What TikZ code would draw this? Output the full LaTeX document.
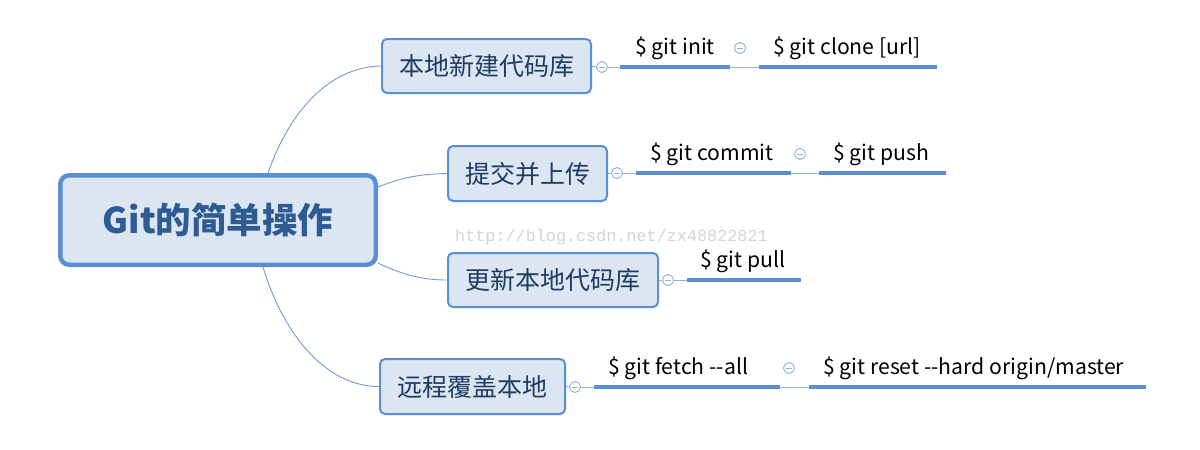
\documentclass[tikz,border=0pt]{standalone}
\usepackage{fontspec}
\newfontfamily\cjk{Noto Sans CJK SC}
\newfontfamily\wmfont{Liberation Mono}
\usetikzlibrary{calc}
\definecolor{bdr}{HTML}{5A8ED5}
\definecolor{fillc}{HTML}{DCE6F2}
\definecolor{rootc}{HTML}{2E5B92}
\definecolor{navy}{HTML}{1E3B63}
\definecolor{linkc}{HTML}{6E9BD8}
\definecolor{togc}{HTML}{8FB0E0}
\definecolor{wmc}{HTML}{D4D4D4}
\tikzset{
  root/.style={draw=bdr, fill=fillc, line width=4.5pt, rounded corners=9pt, inner sep=0pt,
    minimum width=315.5pt, minimum height=89.5pt, text=rootc, font=\cjk\bfseries\fontsize{35.5}{35.5}\selectfont},
  branch/.style={draw=bdr, fill=fillc, line width=2pt, rounded corners=5pt, inner sep=0pt,
    text=navy, font=\cjk\fontsize{25}{25}\selectfont},
  link/.style={draw=linkc, line width=0.9pt},
  under/.style={draw=bdr, line width=3.2pt},
  thin/.style={draw=togc, line width=1pt},
  toggle/.style={circle, draw=togc, fill=white, line width=0.9pt, minimum size=11pt, inner sep=0pt,
    path picture={\draw[togc, line width=0.9pt] ([xshift=-2.6pt]path picture bounding box.center) -- ([xshift=2.6pt]path picture bounding box.center);}},
  leaf/.style={anchor=base west, inner sep=0pt, text=black, font=\cjk\fontsize{21.2}{21.2}\selectfont},
}
\begin{document}
\begin{tikzpicture}[x=1pt,y=-1pt]
\useasboundingbox (0,0) rectangle (1200,450);
% watermark
\node[anchor=base west, inner sep=0pt, text=wmc, font=\wmfont\fontsize{16.8}{16.8}\selectfont] (wm) at (455,241) {http://blog.csdn.net/zx48822821};
% root
\node[root] (root) at (218,220) {Git的简单操作};
% branches
\node[branch, minimum width=209pt, minimum height=54pt] (b1) at (486.5,66) {本地新建代码库};
\node[branch, minimum width=159pt, minimum height=55pt] (b2) at (527.5,173.5) {提交并上传};
\node[branch, minimum width=210pt, minimum height=54pt] (b3) at (553,280) {更新本地代码库};
\node[branch, minimum width=185pt, minimum height=55pt] (b4) at (472.5,386.5) {远程覆盖本地};
% connectors root -> branches
\coordinate (s1) at ($(root.north)+(50,0)$);
\coordinate (s2) at ($(root.north east)+(0,14)$);
\coordinate (s3) at ($(root.south east)+(0,-4)$);
\coordinate (s4) at ($(root.south)+(45,0)$);
\draw[link] (s1) .. controls (290,110) and (330,67) .. (b1.west);
\draw[link] (s2) .. controls (405,176) and (425,174) .. (b2.west);
\draw[link] (s3) .. controls (405,276) and (425,280) .. (b3.west);
\draw[link] (s4) .. controls (285,340) and (330,387) .. (b4.west);
% toggles
\node[toggle] (t1) at (602,67) {};
\node[toggle] (t2) at (617,173) {};
\node[toggle] (t3) at (668,280) {};
\node[toggle] (t4) at (575,387) {};
\node[toggle] (u1) at (740,48) {};
\node[toggle] (u2) at (800,154) {};
\node[toggle] (u4) at (789,368) {};
% branch 1 leaves
\coordinate (a1) at (620,67); \coordinate (a2) at (730,67);
\coordinate (a3) at (759,67); \coordinate (a4) at (937,67);
\draw[thin] (b1.east) -- (t1.west);
\draw[thin] (t1.east) -- (a1);
\draw[under] (a1) -- (a2);
\draw[thin] (a2) -- (a3);
\draw[under] (a3) -- (a4);
\node[leaf] (l1a) at (635,54) {\$ git init};
\node[leaf] (l1b) at (773,54) {\$ git clone [url]};
% branch 2 leaves
\coordinate (c1) at (636,173); \coordinate (c2) at (791,173);
\coordinate (c3) at (819,173); \coordinate (c4) at (946,173);
\draw[thin] (b2.east) -- (t2.west);
\draw[thin] (t2.east) -- (c1);
\draw[under] (c1) -- (c2);
\draw[thin] (c2) -- (c3);
\draw[under] (c3) -- (c4);
\node[leaf] (l2a) at (650,160) {\$ git commit};
\node[leaf] (l2b) at (833,160) {\$ git push};
% branch 3 leaves
\coordinate (d1) at (687,280); \coordinate (d2) at (801,280);
\draw[thin] (b3.east) -- (t3.west);
\draw[thin] (t3.east) -- (d1);
\draw[under] (d1) -- (d2);
\node[leaf] (l3a) at (700,267) {\$ git pull};
% branch 4 leaves
\coordinate (e1) at (594,387); \coordinate (e2) at (780,387);
\coordinate (e3) at (809,387); \coordinate (e4) at (1146,387);
\draw[thin] (b4.east) -- (t4.west);
\draw[thin] (t4.east) -- (e1);
\draw[under] (e1) -- (e2);
\draw[thin] (e2) -- (e3);
\draw[under] (e3) -- (e4);
\node[leaf] (l4a) at (608,374) {\$ git fetch -{}-all};
\node[leaf] (l4b) at (823,374) {\$ git reset -{}-hard origin/master};
\end{tikzpicture}
\end{document}
